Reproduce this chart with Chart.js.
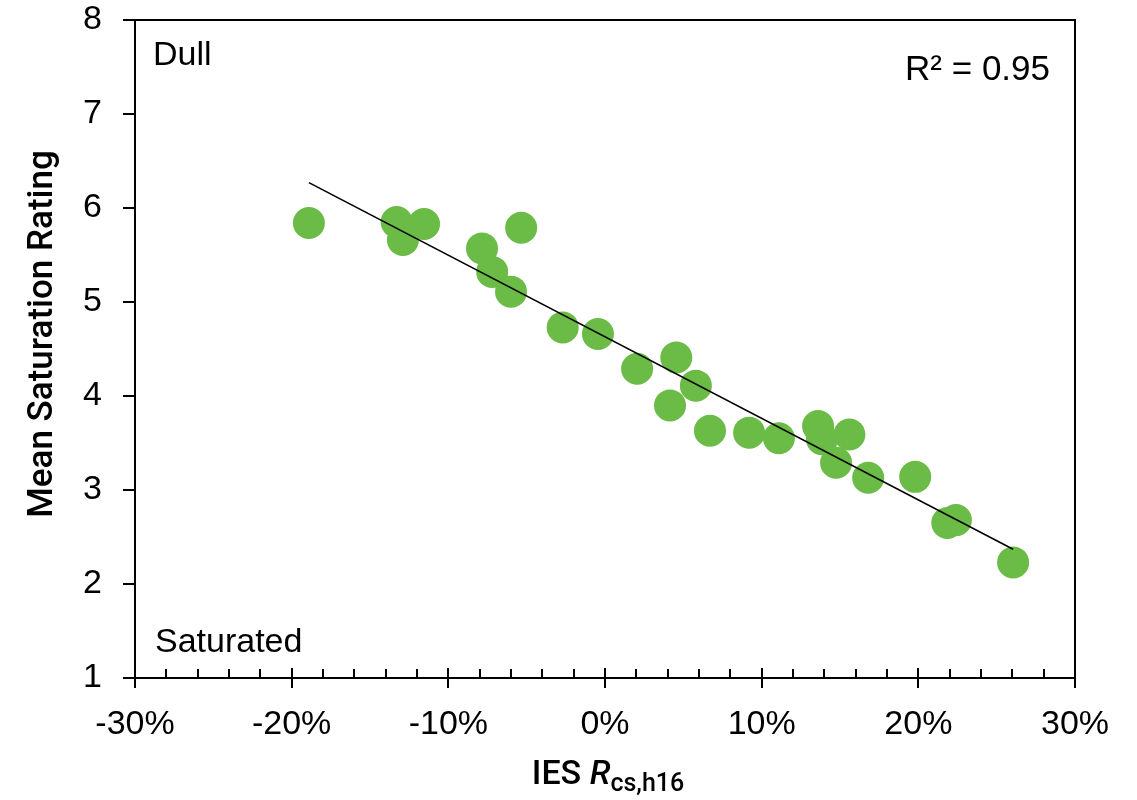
<!DOCTYPE html>
<html>
<head>
<meta charset="utf-8">
<script src="https://cdn.jsdelivr.net/npm/chart.js@4.4.1/dist/chart.umd.min.js"></script>
<style>
  html, body { margin: 0; padding: 0; background: #fff; }
  #wrap { width: 1137px; height: 800px; position: relative; }
</style>
</head>
<body>
<div id="wrap"><canvas id="c" width="1137" height="800"></canvas></div>
<script>
// Data (x in %, y = mean saturation rating)
const rcsValues = [-18.9, -13.3, -12.9, -11.55, -7.85, -7.2, -6.0, -5.35, -2.7, -0.45,
  2.05, 4.55, 4.15, 5.8, 6.7, 9.2, 11.1, 13.6, 13.85, 15.6, 14.75, 16.8, 19.8, 21.85, 22.4, 26.05];
const ratingValues = [5.84, 5.85, 5.66, 5.83, 5.57, 5.32, 5.11, 5.79, 4.73, 4.66,
  4.29, 4.41, 3.90, 4.11, 3.63, 3.61, 3.55, 3.68, 3.54, 3.59, 3.29, 3.13, 3.14, 2.65, 2.68, 2.23];
const xTickValues = [-30, -20, -10, 0, 10, 20, 30];
const yTickValues = [1, 2, 3, 4, 5, 6, 7, 8];
const annotationTexts = { dull: 'Dull', saturated: 'Saturated', r2: 'R\u00B2 = 0.95' };
const yTitle = 'Mean Saturation Rating';

// Least-squares trend line from the data
function linearFit(xs, ys) {
  const n = xs.length;
  let sx = 0, sy = 0, sxx = 0, sxy = 0;
  for (let i = 0; i < n; i++) { sx += xs[i]; sy += ys[i]; sxx += xs[i]*xs[i]; sxy += xs[i]*ys[i]; }
  const b = (n*sxy - sx*sy) / (n*sxx - sx*sx);
  const a = (sy - b*sx) / n;
  return { a, b };
}
const fit = linearFit(rcsValues, ratingValues);
const xMin = Math.min(...rcsValues), xMax = Math.max(...rcsValues);
const trendPoints = [{x: xMin, y: fit.a + fit.b*xMin}, {x: xMax, y: fit.a + fit.b*xMax}];
const scatterPoints = rcsValues.map((x, i) => ({x, y: ratingValues[i]}));

const FONT = '"Liberation Sans", Arial, sans-serif';
const TFONT = 'Roboto, "Liberation Sans", Arial, sans-serif';

const decor = {
  id: 'decor',
  afterDraw(chart) {
    const ctx = chart.ctx;
    const xs = chart.scales.x, ys = chart.scales.y;
    const L = chart.chartArea.left, R = chart.chartArea.right, T = chart.chartArea.top, B = chart.chartArea.bottom;
    ctx.save();
    ctx.strokeStyle = '#000';
    ctx.lineWidth = 2;
    ctx.beginPath();
    ctx.rect(L, T, R - L, B - T);
    ctx.stroke();
    ctx.beginPath();
    for (let v = -30; v <= 30; v += 2) {
      const px = Math.round(xs.getPixelForValue(v));
      if (v % 10 === 0) { ctx.moveTo(px, B - 10); ctx.lineTo(px, B + 10); }
      else { ctx.moveTo(px, B - 9); ctx.lineTo(px, B); }
    }
    yTickValues.forEach(v => {
      const py = Math.round(ys.getPixelForValue(v));
      ctx.moveTo(L - 12, py); ctx.lineTo(L, py);
    });
    ctx.stroke();

    ctx.fillStyle = '#000';
    ctx.font = '34px ' + FONT;
    ctx.textBaseline = 'alphabetic';
    ctx.textAlign = 'left';
    ctx.fillText(annotationTexts.dull, 153, 65);
    ctx.fillText(annotationTexts.saturated, 155, 652);
    ctx.textAlign = 'right';
    ctx.font = '35px ' + FONT;
    ctx.fillText(annotationTexts.r2, 1050, 80);

    ctx.save();
    ctx.translate(52, 334);
    ctx.rotate(-Math.PI/2);
    ctx.textAlign = 'center';
    ctx.font = '500 35px ' + TFONT;
    ctx.fillText(yTitle, 0, 0);
    ctx.restore();

    const parts = [
      { t: 'IES ', f: '500 34px ' + TFONT, dy: 0 },
      { t: 'R', f: 'italic 500 34px ' + TFONT, dy: 0 },
      { t: 'cs,h16', f: '500 25px ' + TFONT, dy: 7 }
    ];
    let total = 0;
    parts.forEach(p => { ctx.font = p.f; p.w = ctx.measureText(p.t).width; total += p.w; });
    let x0 = 608 - total/2;
    ctx.textAlign = 'left';
    parts.forEach(p => { ctx.font = p.f; ctx.fillText(p.t, x0, 784 + p.dy); x0 += p.w; });
    ctx.restore();
  }
};

new Chart(document.getElementById('c'), {
  type: 'scatter',
  data: {
    datasets: [
      {
        type: 'line',
        data: trendPoints,
        borderColor: '#000',
        borderWidth: 1.6,
        pointRadius: 0,
        fill: false,
        order: 1
      },
      {
        data: scatterPoints,
        backgroundColor: 'rgb(107,187,71)',
        borderWidth: 0,
        pointRadius: 16,
        pointHoverRadius: 16,
        order: 2
      }
    ]
  },
  options: {
    responsive: false,
    animation: false,
    events: [],
    layout: { padding: { top: 20, right: 62, left: 0, bottom: 0 } },
    plugins: { legend: { display: false }, tooltip: { enabled: false } },
    scales: {
      x: {
        type: 'linear',
        min: -30, max: 30,
        afterFit(s) { s.height = 122; s.paddingLeft = 0; s.paddingRight = 0; },
        afterBuildTicks(s) { s.ticks = xTickValues.map(v => ({ value: v })); },
        grid: { display: false, drawTicks: false },
        border: { display: false },
        ticks: {
          padding: 26,
          color: '#000',
          font: { family: FONT, size: 34 },
          maxRotation: 0,
          callback: v => v + '%'
        }
      },
      y: {
        type: 'linear',
        min: 1, max: 8,
        afterFit(s) { s.width = 135; s.paddingTop = 0; s.paddingBottom = 0; },
        afterBuildTicks(s) { s.ticks = yTickValues.map(v => ({ value: v })); },
        grid: { display: false, drawTicks: false },
        border: { display: false },
        ticks: {
          padding: 33,
          color: '#000',
          font: { family: FONT, size: 34 },
          callback: v => String(v)
        }
      }
    }
  },
  plugins: [decor]
});
</script>
</body>
</html>
